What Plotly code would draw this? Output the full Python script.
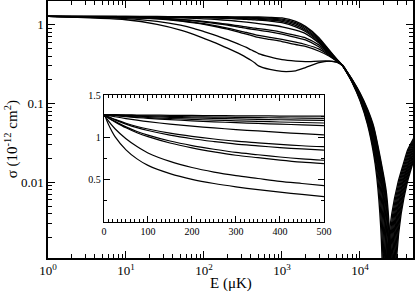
import plotly.graph_objects as go

# ---------------- data (E in microkelvin, sigma in 1e-12 cm^2) ----------------
# shared energy grid up to the common crossing point
E_GRID = [1, 10, 25, 50, 75, 100, 150, 200, 250, 300, 350, 400, 450, 500,
          700, 1000, 1500, 2000, 3000, 4000, 5000, 6000]

S1 = [1.27, 1.269, 1.268, 1.266, 1.264, 1.263, 1.261, 1.259, 1.257, 1.255, 1.254, 1.252, 1.251, 1.25,
      1.24, 1.215, 1.10, 0.95, 0.68, 0.48, 0.37, 0.30]
S2 = [1.27, 1.268, 1.265, 1.261, 1.257, 1.254, 1.249, 1.244, 1.24, 1.237, 1.234, 1.23, 1.228, 1.225,
      1.21, 1.175, 1.06, 0.92, 0.66, 0.47, 0.365, 0.30]
S3 = [1.27, 1.266, 1.262, 1.256, 1.25, 1.245, 1.237, 1.23, 1.224, 1.218, 1.213, 1.208, 1.204, 1.20,
      1.18, 1.14, 1.02, 0.88, 0.64, 0.465, 0.36, 0.30]
S4 = [1.27, 1.265, 1.259, 1.25, 1.242, 1.235, 1.223, 1.213, 1.204, 1.196, 1.189, 1.182, 1.176, 1.17,
      1.145, 1.10, 0.98, 0.85, 0.62, 0.46, 0.36, 0.30]
S5 = [1.27, 1.264, 1.256, 1.244, 1.234, 1.225, 1.209, 1.196, 1.184, 1.174, 1.165, 1.156, 1.148, 1.14,
      1.11, 1.06, 0.94, 0.82, 0.60, 0.45, 0.355, 0.30]
S6 = [1.27, 1.258, 1.244, 1.222, 1.203, 1.186, 1.157, 1.133, 1.112, 1.092, 1.076, 1.059, 1.044, 1.03,
      0.99, 0.94, 0.85, 0.77, 0.58, 0.44, 0.355, 0.30]
S7 = [1.27, 1.243, 1.213, 1.167, 1.129, 1.099, 1.05, 1.012, 0.981, 0.955, 0.936, 0.917, 0.901, 0.89,
      0.85, 0.80, 0.73, 0.68, 0.55, 0.43, 0.35, 0.30]
S8 = [1.27, 1.241, 1.207, 1.157, 1.115, 1.081, 1.026, 0.984, 0.951, 0.921, 0.90, 0.879, 0.863, 0.85,
      0.81, 0.76, 0.69, 0.64, 0.52, 0.42, 0.35, 0.30]
S9 = [1.27, 1.232, 1.189, 1.124, 1.07, 1.027, 0.957, 0.903, 0.86, 0.822, 0.795, 0.768, 0.746, 0.73,
      0.69, 0.65, 0.60, 0.56, 0.49, 0.41, 0.345, 0.30]
S10 = [1.27, 1.229, 1.183, 1.113, 1.055, 1.009, 0.934, 0.876, 0.829, 0.789, 0.76, 0.731, 0.707, 0.69,
       0.65, 0.61, 0.56, 0.53, 0.46, 0.40, 0.345, 0.30]
S11 = [1.27, 1.194, 1.102, 0.984, 0.892, 0.816, 0.716, 0.644, 0.59, 0.548, 0.514, 0.48, 0.455, 0.43,
       0.39, 0.36, 0.345, 0.34, 0.345, 0.345, 0.335, 0.305]
S12 = [1.27, 1.154, 1.008, 0.853, 0.746, 0.669, 0.572, 0.504, 0.455, 0.416, 0.382, 0.353, 0.326, 0.30,
       0.27, 0.255, 0.26, 0.285, 0.33, 0.345, 0.335, 0.305]

# high-energy tails (past the common crossing): each curve has its own zero
E1_TAIL = [7000, 8000, 10000, 12500, 15000, 16400, 18450, 19680, 20500, 21320, 22550, 25600, 30750, 35900, 41000, 49200]
S1_TAIL = [0.233, 0.182, 0.109, 0.054, 0.0225, 0.0118, 0.0027, 0.00041, 1e-6, 0.00015, 0.0012, 0.004, 0.010, 0.017, 0.026, 0.037]
E2_TAIL = [7000, 8000, 10000, 12500, 15000, 16880, 18990, 20260, 21100, 21940, 23210, 26380, 31650, 36930, 42200, 50640]
S2_TAIL = [0.234, 0.184, 0.112, 0.057, 0.025, 0.0114, 0.0026, 0.0004, 1e-6, 0.00015, 0.0012, 0.004, 0.010, 0.017, 0.026, 0.037]
E3_TAIL = [7000, 8000, 10000, 12500, 15000, 17360, 19530, 20830, 21700, 22570, 23870, 27130, 32550, 37980, 43400, 52080]
S3_TAIL = [0.235, 0.185, 0.114, 0.060, 0.0275, 0.0111, 0.0025, 0.00039, 1e-6, 0.00015, 0.0012, 0.004, 0.010, 0.017, 0.026, 0.037]
E4_TAIL = [7000, 8000, 10000, 12500, 15000, 17840, 20070, 21410, 22300, 23190, 24530, 27880, 33450, 39030, 44600, 53520]
S4_TAIL = [0.236, 0.187, 0.117, 0.062, 0.030, 0.0107, 0.0024, 0.00038, 1e-6, 0.00015, 0.0012, 0.004, 0.010, 0.017, 0.026, 0.037]
E5_TAIL = [7000, 8000, 10000, 12500, 15000, 18320, 20610, 21980, 22900, 23820, 25190, 28630, 34350, 40080, 45800, 54960]
S5_TAIL = [0.237, 0.188, 0.119, 0.065, 0.0325, 0.0104, 0.0024, 0.00036, 1e-6, 0.00015, 0.0012, 0.004, 0.010, 0.017, 0.026, 0.037]
E6_TAIL = [7000, 8000, 10000, 12500, 15000, 18800, 21150, 22560, 23500, 24440, 25850, 29380, 35250, 41130, 47000, 56400]
S6_TAIL = [0.238, 0.190, 0.122, 0.068, 0.035, 0.0100, 0.0023, 0.00035, 1e-6, 0.00015, 0.0012, 0.004, 0.010, 0.017, 0.026, 0.037]
E7_TAIL = [7000, 8000, 10000, 12500, 15000, 19200, 21600, 23040, 24000, 24960, 26400, 30000, 36000, 42000, 48000, 57600]
S7_TAIL = [0.239, 0.192, 0.124, 0.071, 0.038, 0.0097, 0.0022, 0.00034, 1e-6, 0.00015, 0.0012, 0.004, 0.010, 0.017, 0.026, 0.037]
E8_TAIL = [7000, 8000, 10000, 12500, 15000, 19680, 22140, 23620, 24600, 25580, 27060, 30750, 36900, 43050, 49200, 59040]
S8_TAIL = [0.240, 0.193, 0.127, 0.074, 0.041, 0.0094, 0.0021, 0.00033, 1e-6, 0.00015, 0.0012, 0.004, 0.010, 0.017, 0.026, 0.037]
E9_TAIL = [7000, 8000, 10000, 12500, 15000, 20160, 22680, 24190, 25200, 26210, 27720, 31500, 37800, 44100, 50400, 60480]
S9_TAIL = [0.241, 0.195, 0.129, 0.077, 0.0435, 0.0090, 0.0021, 0.00032, 1e-6, 0.00015, 0.0012, 0.004, 0.010, 0.017, 0.026, 0.037]
E10_TAIL = [7000, 8000, 10000, 12500, 15000, 20640, 23220, 24770, 25800, 26830, 28380, 32250, 38700, 45150, 51600, 61920]
S10_TAIL = [0.242, 0.197, 0.132, 0.079, 0.046, 0.0087, 0.0020, 0.0003, 1e-6, 0.00015, 0.0012, 0.004, 0.010, 0.017, 0.026, 0.037]
E11_TAIL = [7000, 8000, 10000, 12500, 15000, 21120, 23760, 25340, 26400, 27460, 29040, 33000, 39600, 46200, 52800, 63360]
S11_TAIL = [0.243, 0.198, 0.134, 0.082, 0.0485, 0.0083, 0.0019, 0.00029, 1e-6, 0.00015, 0.0012, 0.004, 0.010, 0.017, 0.026, 0.037]
E12_TAIL = [7000, 8000, 10000, 12500, 15000, 21600, 24300, 25920, 27000, 28080, 29700, 33750, 40500, 47250, 54000, 64800]
S12_TAIL = [0.244, 0.200, 0.137, 0.085, 0.0511, 0.0080, 0.00184, 0.00028, 1e-6, 0.00015, 0.0012, 0.004, 0.010, 0.017, 0.026, 0.037]

INSET_E_MAX = 500  # the inset shows the low-energy part of the same curves on linear axes

MAIN_X_TICKS = [1, 10, 100, 1000, 10000]
MAIN_X_TEXT = ["10<sup>0</sup>", "10<sup>1</sup>", "10<sup>2</sup>", "10<sup>3</sup>", "10<sup>4</sup>"]
MAIN_Y_TICKS = [0.01, 0.1, 1]
MAIN_Y_TEXT = ["0.01", "0.1", "1"]
INSET_X_TICKS = [0, 100, 200, 300, 400, 500]
INSET_Y_TICKS = [0.5, 1, 1.5]
INSET_Y_TEXT = ["0.5", "1", "1.5"]

MINOR_X = [m * 10 ** k for k in range(0, 5) for m in range(2, 10)]
MINOR_Y = [m * 10.0 ** k for k in range(-3, 1) for m in range(2, 10)]

curves = [S1, S2, S3, S4, S5, S6, S7, S8, S9, S10, S11, S12]
tails_e = [E1_TAIL, E2_TAIL, E3_TAIL, E4_TAIL, E5_TAIL, E6_TAIL, E7_TAIL, E8_TAIL, E9_TAIL, E10_TAIL, E11_TAIL, E12_TAIL]
tails_s = [S1_TAIL, S2_TAIL, S3_TAIL, S4_TAIL, S5_TAIL, S6_TAIL, S7_TAIL, S8_TAIL, S9_TAIL, S10_TAIL, S11_TAIL, S12_TAIL]

FONT = "Liberation Serif, Times New Roman, serif"

fig = go.Figure()
for s, te, ts in zip(curves, tails_e, tails_s):
    fig.add_trace(go.Scatter(x=E_GRID + te, y=s + ts, mode="lines",
                             line=dict(color="black", width=1.3, shape="spline", smoothing=0.6),
                             xaxis="x", yaxis="y", showlegend=False, hoverinfo="skip"))
n_in = sum(1 for e in E_GRID if e <= INSET_E_MAX)
for s in curves:
    fig.add_trace(go.Scatter(x=E_GRID[:n_in], y=s[:n_in], mode="lines",
                             line=dict(color="black", width=1.2, shape="spline", smoothing=0.8),
                             xaxis="x2", yaxis="y2", showlegend=False, hoverinfo="skip"))

axis_common = dict(showline=True, linecolor="black", mirror="allticks",
                   ticks="inside", tickcolor="black", showgrid=False, zeroline=False,
                   automargin=False)

main_font = dict(family=FONT, size=13, color="black")
inset_font = dict(family=FONT, size=10, color="black")

fig.update_layout(
    width=415, height=295,
    margin=dict(l=48, r=2, t=1, b=37, autoexpand=False),
    paper_bgcolor="white", plot_bgcolor="white",
    font=dict(family=FONT, color="black"),
    xaxis=dict(type="log", range=[0, 4.68], tickvals=MAIN_X_TICKS, ticktext=MAIN_X_TEXT,
               ticklen=7, tickwidth=1.2, linewidth=1.5, tickfont=main_font,
               minor=dict(tickmode="array", tickvals=MINOR_X, ticks="inside", ticklen=4,
                          tickcolor="black", tickwidth=1, showgrid=False),
               domain=[0, 1], anchor="y", **axis_common),
    yaxis=dict(type="log", range=[-2.96, 0.30], tickvals=MAIN_Y_TICKS, ticktext=MAIN_Y_TEXT,
               ticklen=7, tickwidth=1.2, linewidth=1.5, tickfont=main_font,
               minor=dict(tickmode="array", tickvals=MINOR_Y, ticks="inside", ticklen=4,
                          tickcolor="black", tickwidth=1, showgrid=False),
               domain=[0, 1], anchor="x", **axis_common),
    xaxis2=dict(range=[0, 500], tickvals=INSET_X_TICKS, ticklen=6, tickwidth=1,
                linewidth=1.3, tickfont=inset_font,
                minor=dict(ticks="inside", ticklen=3, dtick=10, tickcolor="black", showgrid=False),
                domain=[0.1534, 0.756], anchor="y2", **axis_common),
    yaxis2=dict(range=[0, 1.5], tickvals=INSET_Y_TICKS, ticktext=INSET_Y_TEXT, ticklen=6, tickwidth=1,
                linewidth=1.3, tickfont=inset_font,
                minor=dict(ticks="inside", ticklen=3, dtick=0.25, tickcolor="black", showgrid=False),
                domain=[0.140, 0.634], anchor="x2", **axis_common),
    annotations=[
        dict(text="E (μK)", xref="paper", yref="paper", x=0.5, y=-0.1, xanchor="center",
             yanchor="middle", showarrow=False, font=dict(family=FONT, size=15, color="black")),
        dict(text="σ (10<sup>-12</sup> cm<sup>2</sup>)", xref="paper", yref="paper", x=-0.1, y=0.46,
             xanchor="center", yanchor="middle", textangle=-90, showarrow=False,
             font=dict(family=FONT, size=15, color="black")),
    ],
)

fig.write_html("out.html", config={"displayModeBar": False},
               post_script="document.body.style.margin='0';document.body.style.overflow='hidden';")
